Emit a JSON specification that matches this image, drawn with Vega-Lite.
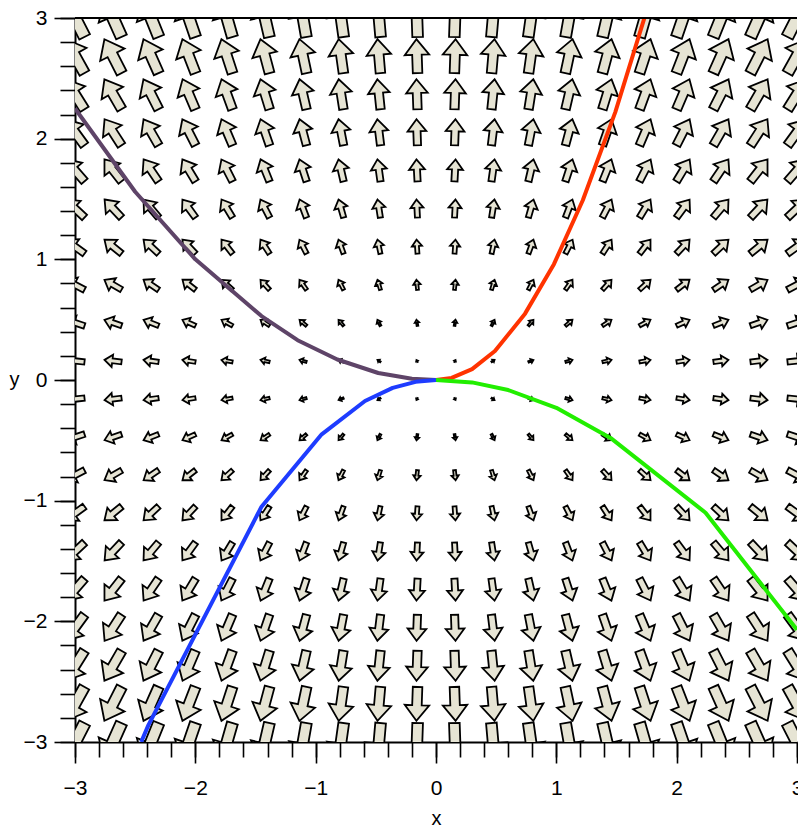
{
"$schema": "https://vega.github.io/schema/vega-lite/v6.json",
"width": 722,
"height": 724,
"autosize": {"type": "none"},
"padding": {"left": 75, "top": 18, "right": 1, "bottom": 86},
"background": "white",
"config": {
  "view": {"stroke": null},
  "axis": {"labelFont": "Liberation Sans", "titleFont": "Liberation Sans", "labelColor": "black", "titleColor": "black", "tickColor": "black", "domainColor": "black", "grid": false, "labelFlush": false, "labelOverlap": false, "titleFontWeight": "normal"}
},
"datasets": {
"arrows": [
{"x":-3,"y":3,"a":-27,"s":45},{"x":-2.684,"y":3,"a":-24,"s":43.21},{"x":-2.368,"y":3,"a":-22,"s":41.61},{"x":-2.053,"y":3,"a":-19,"s":40.21},{"x":-1.737,"y":3,"a":-16,"s":39.02},{"x":-1.421,"y":3,"a":-13,"s":38.02},{"x":-1.105,"y":3,"a":-10,"s":37.22},{"x":-0.789,"y":3,"a":-8,"s":36.62},{"x":-0.474,"y":3,"a":-5,"s":36.22},{"x":-0.158,"y":3,"a":-2,"s":36.02},
{"x":0.158,"y":3,"a":2,"s":36.02},{"x":0.474,"y":3,"a":5,"s":36.22},{"x":0.789,"y":3,"a":8,"s":36.62},{"x":1.105,"y":3,"a":10,"s":37.22},{"x":1.421,"y":3,"a":13,"s":38.02},{"x":1.737,"y":3,"a":16,"s":39.02},{"x":2.053,"y":3,"a":19,"s":40.21},{"x":2.368,"y":3,"a":22,"s":41.61},{"x":2.684,"y":3,"a":24,"s":43.21},{"x":3,"y":3,"a":27,"s":45},
{"x":-3,"y":2.684,"a":-29,"s":37.82},{"x":-2.684,"y":2.684,"a":-27,"s":36.03},{"x":-2.368,"y":2.684,"a":-24,"s":34.43},{"x":-2.053,"y":2.684,"a":-21,"s":33.03},{"x":-1.737,"y":2.684,"a":-18,"s":31.84},{"x":-1.421,"y":2.684,"a":-15,"s":30.84},{"x":-1.105,"y":2.684,"a":-12,"s":30.04},{"x":-0.789,"y":2.684,"a":-8,"s":29.44},{"x":-0.474,"y":2.684,"a":-5,"s":29.04},{"x":-0.158,"y":2.684,"a":-2,"s":28.84},
{"x":0.158,"y":2.684,"a":2,"s":28.84},{"x":0.474,"y":2.684,"a":5,"s":29.04},{"x":0.789,"y":2.684,"a":8,"s":29.44},{"x":1.105,"y":2.684,"a":12,"s":30.04},{"x":1.421,"y":2.684,"a":15,"s":30.84},{"x":1.737,"y":2.684,"a":18,"s":31.84},{"x":2.053,"y":2.684,"a":21,"s":33.03},{"x":2.368,"y":2.684,"a":24,"s":34.43},{"x":2.684,"y":2.684,"a":27,"s":36.03},{"x":3,"y":2.684,"a":29,"s":37.82},
{"x":-3,"y":2.368,"a":-32,"s":31.44},{"x":-2.684,"y":2.368,"a":-30,"s":29.64},{"x":-2.368,"y":2.368,"a":-27,"s":28.05},{"x":-2.053,"y":2.368,"a":-23,"s":26.65},{"x":-1.737,"y":2.368,"a":-20,"s":25.46},{"x":-1.421,"y":2.368,"a":-17,"s":24.46},{"x":-1.105,"y":2.368,"a":-13,"s":23.66},{"x":-0.789,"y":2.368,"a":-9,"s":23.06},{"x":-0.474,"y":2.368,"a":-6,"s":22.66},{"x":-0.158,"y":2.368,"a":-2,"s":22.46},
{"x":0.158,"y":2.368,"a":2,"s":22.46},{"x":0.474,"y":2.368,"a":6,"s":22.66},{"x":0.789,"y":2.368,"a":9,"s":23.06},{"x":1.105,"y":2.368,"a":13,"s":23.66},{"x":1.421,"y":2.368,"a":17,"s":24.46},{"x":1.737,"y":2.368,"a":20,"s":25.46},{"x":2.053,"y":2.368,"a":23,"s":26.65},{"x":2.368,"y":2.368,"a":27,"s":28.05},{"x":2.684,"y":2.368,"a":30,"s":29.64},{"x":3,"y":2.368,"a":32,"s":31.44},
{"x":-3,"y":2.053,"a":-36,"s":25.85},{"x":-2.684,"y":2.053,"a":-33,"s":24.06},{"x":-2.368,"y":2.053,"a":-30,"s":22.46},{"x":-2.053,"y":2.053,"a":-27,"s":21.07},{"x":-1.737,"y":2.053,"a":-23,"s":19.87},{"x":-1.421,"y":2.053,"a":-19,"s":18.87},{"x":-1.105,"y":2.053,"a":-15,"s":18.08},{"x":-0.789,"y":2.053,"a":-11,"s":17.48},{"x":-0.474,"y":2.053,"a":-7,"s":17.08},{"x":-0.158,"y":2.053,"a":-2,"s":16.88},
{"x":0.158,"y":2.053,"a":2,"s":16.88},{"x":0.474,"y":2.053,"a":7,"s":17.08},{"x":0.789,"y":2.053,"a":11,"s":17.48},{"x":1.105,"y":2.053,"a":15,"s":18.08},{"x":1.421,"y":2.053,"a":19,"s":18.87},{"x":1.737,"y":2.053,"a":23,"s":19.87},{"x":2.053,"y":2.053,"a":27,"s":21.07},{"x":2.368,"y":2.053,"a":30,"s":22.46},{"x":2.684,"y":2.053,"a":33,"s":24.06},{"x":3,"y":2.053,"a":36,"s":25.85},
{"x":-3,"y":1.737,"a":-41,"s":21.07},{"x":-2.684,"y":1.737,"a":-38,"s":19.27},{"x":-2.368,"y":1.737,"a":-34,"s":17.68},{"x":-2.053,"y":1.737,"a":-31,"s":16.28},{"x":-1.737,"y":1.737,"a":-27,"s":15.08},{"x":-1.421,"y":1.737,"a":-22,"s":14.09},{"x":-1.105,"y":1.737,"a":-18,"s":13.29},{"x":-0.789,"y":1.737,"a":-13,"s":12.69},{"x":-0.474,"y":1.737,"a":-8,"s":12.29},{"x":-0.158,"y":1.737,"a":-3,"s":12.09},
{"x":0.158,"y":1.737,"a":3,"s":12.09},{"x":0.474,"y":1.737,"a":8,"s":12.29},{"x":0.789,"y":1.737,"a":13,"s":12.69},{"x":1.105,"y":1.737,"a":18,"s":13.29},{"x":1.421,"y":1.737,"a":22,"s":14.09},{"x":1.737,"y":1.737,"a":27,"s":15.08},{"x":2.053,"y":1.737,"a":31,"s":16.28},{"x":2.368,"y":1.737,"a":34,"s":17.68},{"x":2.684,"y":1.737,"a":38,"s":19.27},{"x":3,"y":1.737,"a":41,"s":21.07},
{"x":-3,"y":1.421,"a":-47,"s":17.08},{"x":-2.684,"y":1.421,"a":-43,"s":15.28},{"x":-2.368,"y":1.421,"a":-40,"s":13.69},{"x":-2.053,"y":1.421,"a":-36,"s":12.29},{"x":-1.737,"y":1.421,"a":-31,"s":11.1},{"x":-1.421,"y":1.421,"a":-27,"s":10.1},{"x":-1.105,"y":1.421,"a":-21,"s":9.3},{"x":-0.789,"y":1.421,"a":-16,"s":8.7},{"x":-0.474,"y":1.421,"a":-9,"s":8.3},{"x":-0.158,"y":1.421,"a":-3,"s":8.1},
{"x":0.158,"y":1.421,"a":3,"s":8.1},{"x":0.474,"y":1.421,"a":9,"s":8.3},{"x":0.789,"y":1.421,"a":16,"s":8.7},{"x":1.105,"y":1.421,"a":21,"s":9.3},{"x":1.421,"y":1.421,"a":27,"s":10.1},{"x":1.737,"y":1.421,"a":31,"s":11.1},{"x":2.053,"y":1.421,"a":36,"s":12.29},{"x":2.368,"y":1.421,"a":40,"s":13.69},{"x":2.684,"y":1.421,"a":43,"s":15.28},{"x":3,"y":1.421,"a":47,"s":17.08},
{"x":-3,"y":1.105,"a":-54,"s":13.89},{"x":-2.684,"y":1.105,"a":-51,"s":12.09},{"x":-2.368,"y":1.105,"a":-47,"s":10.5},{"x":-2.053,"y":1.105,"a":-43,"s":9.1},{"x":-1.737,"y":1.105,"a":-38,"s":7.9},{"x":-1.421,"y":1.105,"a":-33,"s":6.91},{"x":-1.105,"y":1.105,"a":-27,"s":6.11},{"x":-0.789,"y":1.105,"a":-20,"s":5.51},{"x":-0.474,"y":1.105,"a":-12,"s":5.11},{"x":-0.158,"y":1.105,"a":-4,"s":4.91},
{"x":0.158,"y":1.105,"a":4,"s":4.91},{"x":0.474,"y":1.105,"a":12,"s":5.11},{"x":0.789,"y":1.105,"a":20,"s":5.51},{"x":1.105,"y":1.105,"a":27,"s":6.11},{"x":1.421,"y":1.105,"a":33,"s":6.91},{"x":1.737,"y":1.105,"a":38,"s":7.9},{"x":2.053,"y":1.105,"a":43,"s":9.1},{"x":2.368,"y":1.105,"a":47,"s":10.5},{"x":2.684,"y":1.105,"a":51,"s":12.09},{"x":3,"y":1.105,"a":54,"s":13.89},
{"x":-3,"y":0.789,"a":-62,"s":11.49},{"x":-2.684,"y":0.789,"a":-60,"s":9.7},{"x":-2.368,"y":0.789,"a":-56,"s":8.1},{"x":-2.053,"y":0.789,"a":-52,"s":6.71},{"x":-1.737,"y":0.789,"a":-48,"s":5.51},{"x":-1.421,"y":0.789,"a":-42,"s":4.51},{"x":-1.105,"y":0.789,"a":-35,"s":3.72},{"x":-0.789,"y":0.789,"a":-27,"s":3.12},{"x":-0.474,"y":0.789,"a":-17,"s":2.72},{"x":-0.158,"y":0.789,"a":-6,"s":2.52},
{"x":0.158,"y":0.789,"a":6,"s":2.52},{"x":0.474,"y":0.789,"a":17,"s":2.72},{"x":0.789,"y":0.789,"a":27,"s":3.12},{"x":1.105,"y":0.789,"a":35,"s":3.72},{"x":1.421,"y":0.789,"a":42,"s":4.51},{"x":1.737,"y":0.789,"a":48,"s":5.51},{"x":2.053,"y":0.789,"a":52,"s":6.71},{"x":2.368,"y":0.789,"a":56,"s":8.1},{"x":2.684,"y":0.789,"a":60,"s":9.7},{"x":3,"y":0.789,"a":62,"s":11.49},
{"x":-3,"y":0.474,"a":-72,"s":9.9},{"x":-2.684,"y":0.474,"a":-71,"s":8.1},{"x":-2.368,"y":0.474,"a":-68,"s":6.51},{"x":-2.053,"y":0.474,"a":-65,"s":5.11},{"x":-1.737,"y":0.474,"a":-61,"s":3.91},{"x":-1.421,"y":0.474,"a":-56,"s":2.92},{"x":-1.105,"y":0.474,"a":-49,"s":2.12},{"x":-0.789,"y":0.474,"a":-40,"s":1.52},{"x":-0.474,"y":0.474,"a":-27,"s":1.12},{"x":-0.158,"y":0.474,"a":-9,"s":0.92},
{"x":0.158,"y":0.474,"a":9,"s":0.92},{"x":0.474,"y":0.474,"a":27,"s":1.12},{"x":0.789,"y":0.474,"a":40,"s":1.52},{"x":1.105,"y":0.474,"a":49,"s":2.12},{"x":1.421,"y":0.474,"a":56,"s":2.92},{"x":1.737,"y":0.474,"a":61,"s":3.91},{"x":2.053,"y":0.474,"a":65,"s":5.11},{"x":2.368,"y":0.474,"a":68,"s":6.51},{"x":2.684,"y":0.474,"a":71,"s":8.1},{"x":3,"y":0.474,"a":72,"s":9.9},
{"x":-3,"y":0.158,"a":-84,"s":9.1},{"x":-2.684,"y":0.158,"a":-83,"s":7.31},{"x":-2.368,"y":0.158,"a":-82,"s":5.71},{"x":-2.053,"y":0.158,"a":-81,"s":4.31},{"x":-1.737,"y":0.158,"a":-80,"s":3.12},{"x":-1.421,"y":0.158,"a":-77,"s":2.12},{"x":-1.105,"y":0.158,"a":-74,"s":1.32},{"x":-0.789,"y":0.158,"a":-68,"s":0.72},{"x":-0.474,"y":0.158,"a":-56,"s":0.32},{"x":-0.158,"y":0.158,"a":-27,"s":0.12},
{"x":0.158,"y":0.158,"a":27,"s":0.12},{"x":0.474,"y":0.158,"a":56,"s":0.32},{"x":0.789,"y":0.158,"a":68,"s":0.72},{"x":1.105,"y":0.158,"a":74,"s":1.32},{"x":1.421,"y":0.158,"a":77,"s":2.12},{"x":1.737,"y":0.158,"a":80,"s":3.12},{"x":2.053,"y":0.158,"a":81,"s":4.31},{"x":2.368,"y":0.158,"a":82,"s":5.71},{"x":2.684,"y":0.158,"a":83,"s":7.31},{"x":3,"y":0.158,"a":84,"s":9.1},
{"x":-3,"y":-0.158,"a":-96,"s":9.1},{"x":-2.684,"y":-0.158,"a":-97,"s":7.31},{"x":-2.368,"y":-0.158,"a":-98,"s":5.71},{"x":-2.053,"y":-0.158,"a":-99,"s":4.31},{"x":-1.737,"y":-0.158,"a":-100,"s":3.12},{"x":-1.421,"y":-0.158,"a":-103,"s":2.12},{"x":-1.105,"y":-0.158,"a":-106,"s":1.32},{"x":-0.789,"y":-0.158,"a":-112,"s":0.72},{"x":-0.474,"y":-0.158,"a":-124,"s":0.32},{"x":-0.158,"y":-0.158,"a":-153,"s":0.12},
{"x":0.158,"y":-0.158,"a":153,"s":0.12},{"x":0.474,"y":-0.158,"a":124,"s":0.32},{"x":0.789,"y":-0.158,"a":112,"s":0.72},{"x":1.105,"y":-0.158,"a":106,"s":1.32},{"x":1.421,"y":-0.158,"a":103,"s":2.12},{"x":1.737,"y":-0.158,"a":100,"s":3.12},{"x":2.053,"y":-0.158,"a":99,"s":4.31},{"x":2.368,"y":-0.158,"a":98,"s":5.71},{"x":2.684,"y":-0.158,"a":97,"s":7.31},{"x":3,"y":-0.158,"a":96,"s":9.1},
{"x":-3,"y":-0.474,"a":-108,"s":9.9},{"x":-2.684,"y":-0.474,"a":-109,"s":8.1},{"x":-2.368,"y":-0.474,"a":-112,"s":6.51},{"x":-2.053,"y":-0.474,"a":-115,"s":5.11},{"x":-1.737,"y":-0.474,"a":-119,"s":3.91},{"x":-1.421,"y":-0.474,"a":-124,"s":2.92},{"x":-1.105,"y":-0.474,"a":-131,"s":2.12},{"x":-0.789,"y":-0.474,"a":-140,"s":1.52},{"x":-0.474,"y":-0.474,"a":-153,"s":1.12},{"x":-0.158,"y":-0.474,"a":-171,"s":0.92},
{"x":0.158,"y":-0.474,"a":171,"s":0.92},{"x":0.474,"y":-0.474,"a":153,"s":1.12},{"x":0.789,"y":-0.474,"a":140,"s":1.52},{"x":1.105,"y":-0.474,"a":131,"s":2.12},{"x":1.421,"y":-0.474,"a":124,"s":2.92},{"x":1.737,"y":-0.474,"a":119,"s":3.91},{"x":2.053,"y":-0.474,"a":115,"s":5.11},{"x":2.368,"y":-0.474,"a":112,"s":6.51},{"x":2.684,"y":-0.474,"a":109,"s":8.1},{"x":3,"y":-0.474,"a":108,"s":9.9},
{"x":-3,"y":-0.789,"a":-118,"s":11.49},{"x":-2.684,"y":-0.789,"a":-120,"s":9.7},{"x":-2.368,"y":-0.789,"a":-124,"s":8.1},{"x":-2.053,"y":-0.789,"a":-128,"s":6.71},{"x":-1.737,"y":-0.789,"a":-132,"s":5.51},{"x":-1.421,"y":-0.789,"a":-138,"s":4.51},{"x":-1.105,"y":-0.789,"a":-145,"s":3.72},{"x":-0.789,"y":-0.789,"a":-153,"s":3.12},{"x":-0.474,"y":-0.789,"a":-163,"s":2.72},{"x":-0.158,"y":-0.789,"a":-174,"s":2.52},
{"x":0.158,"y":-0.789,"a":174,"s":2.52},{"x":0.474,"y":-0.789,"a":163,"s":2.72},{"x":0.789,"y":-0.789,"a":153,"s":3.12},{"x":1.105,"y":-0.789,"a":145,"s":3.72},{"x":1.421,"y":-0.789,"a":138,"s":4.51},{"x":1.737,"y":-0.789,"a":132,"s":5.51},{"x":2.053,"y":-0.789,"a":128,"s":6.71},{"x":2.368,"y":-0.789,"a":124,"s":8.1},{"x":2.684,"y":-0.789,"a":120,"s":9.7},{"x":3,"y":-0.789,"a":118,"s":11.49},
{"x":-3,"y":-1.105,"a":-126,"s":13.89},{"x":-2.684,"y":-1.105,"a":-129,"s":12.09},{"x":-2.368,"y":-1.105,"a":-133,"s":10.5},{"x":-2.053,"y":-1.105,"a":-137,"s":9.1},{"x":-1.737,"y":-1.105,"a":-142,"s":7.9},{"x":-1.421,"y":-1.105,"a":-147,"s":6.91},{"x":-1.105,"y":-1.105,"a":-153,"s":6.11},{"x":-0.789,"y":-1.105,"a":-160,"s":5.51},{"x":-0.474,"y":-1.105,"a":-168,"s":5.11},{"x":-0.158,"y":-1.105,"a":-176,"s":4.91},
{"x":0.158,"y":-1.105,"a":176,"s":4.91},{"x":0.474,"y":-1.105,"a":168,"s":5.11},{"x":0.789,"y":-1.105,"a":160,"s":5.51},{"x":1.105,"y":-1.105,"a":153,"s":6.11},{"x":1.421,"y":-1.105,"a":147,"s":6.91},{"x":1.737,"y":-1.105,"a":142,"s":7.9},{"x":2.053,"y":-1.105,"a":137,"s":9.1},{"x":2.368,"y":-1.105,"a":133,"s":10.5},{"x":2.684,"y":-1.105,"a":129,"s":12.09},{"x":3,"y":-1.105,"a":126,"s":13.89},
{"x":-3,"y":-1.421,"a":-133,"s":17.08},{"x":-2.684,"y":-1.421,"a":-137,"s":15.28},{"x":-2.368,"y":-1.421,"a":-140,"s":13.69},{"x":-2.053,"y":-1.421,"a":-144,"s":12.29},{"x":-1.737,"y":-1.421,"a":-149,"s":11.1},{"x":-1.421,"y":-1.421,"a":-153,"s":10.1},{"x":-1.105,"y":-1.421,"a":-159,"s":9.3},{"x":-0.789,"y":-1.421,"a":-164,"s":8.7},{"x":-0.474,"y":-1.421,"a":-171,"s":8.3},{"x":-0.158,"y":-1.421,"a":-177,"s":8.1},
{"x":0.158,"y":-1.421,"a":177,"s":8.1},{"x":0.474,"y":-1.421,"a":171,"s":8.3},{"x":0.789,"y":-1.421,"a":164,"s":8.7},{"x":1.105,"y":-1.421,"a":159,"s":9.3},{"x":1.421,"y":-1.421,"a":153,"s":10.1},{"x":1.737,"y":-1.421,"a":149,"s":11.1},{"x":2.053,"y":-1.421,"a":144,"s":12.29},{"x":2.368,"y":-1.421,"a":140,"s":13.69},{"x":2.684,"y":-1.421,"a":137,"s":15.28},{"x":3,"y":-1.421,"a":133,"s":17.08},
{"x":-3,"y":-1.737,"a":-139,"s":21.07},{"x":-2.684,"y":-1.737,"a":-142,"s":19.27},{"x":-2.368,"y":-1.737,"a":-146,"s":17.68},{"x":-2.053,"y":-1.737,"a":-149,"s":16.28},{"x":-1.737,"y":-1.737,"a":-153,"s":15.08},{"x":-1.421,"y":-1.737,"a":-158,"s":14.09},{"x":-1.105,"y":-1.737,"a":-162,"s":13.29},{"x":-0.789,"y":-1.737,"a":-167,"s":12.69},{"x":-0.474,"y":-1.737,"a":-172,"s":12.29},{"x":-0.158,"y":-1.737,"a":-177,"s":12.09},
{"x":0.158,"y":-1.737,"a":177,"s":12.09},{"x":0.474,"y":-1.737,"a":172,"s":12.29},{"x":0.789,"y":-1.737,"a":167,"s":12.69},{"x":1.105,"y":-1.737,"a":162,"s":13.29},{"x":1.421,"y":-1.737,"a":158,"s":14.09},{"x":1.737,"y":-1.737,"a":153,"s":15.08},{"x":2.053,"y":-1.737,"a":149,"s":16.28},{"x":2.368,"y":-1.737,"a":146,"s":17.68},{"x":2.684,"y":-1.737,"a":142,"s":19.27},{"x":3,"y":-1.737,"a":139,"s":21.07},
{"x":-3,"y":-2.053,"a":-144,"s":25.85},{"x":-2.684,"y":-2.053,"a":-147,"s":24.06},{"x":-2.368,"y":-2.053,"a":-150,"s":22.46},{"x":-2.053,"y":-2.053,"a":-153,"s":21.07},{"x":-1.737,"y":-2.053,"a":-157,"s":19.87},{"x":-1.421,"y":-2.053,"a":-161,"s":18.87},{"x":-1.105,"y":-2.053,"a":-165,"s":18.08},{"x":-0.789,"y":-2.053,"a":-169,"s":17.48},{"x":-0.474,"y":-2.053,"a":-173,"s":17.08},{"x":-0.158,"y":-2.053,"a":-178,"s":16.88},
{"x":0.158,"y":-2.053,"a":178,"s":16.88},{"x":0.474,"y":-2.053,"a":173,"s":17.08},{"x":0.789,"y":-2.053,"a":169,"s":17.48},{"x":1.105,"y":-2.053,"a":165,"s":18.08},{"x":1.421,"y":-2.053,"a":161,"s":18.87},{"x":1.737,"y":-2.053,"a":157,"s":19.87},{"x":2.053,"y":-2.053,"a":153,"s":21.07},{"x":2.368,"y":-2.053,"a":150,"s":22.46},{"x":2.684,"y":-2.053,"a":147,"s":24.06},{"x":3,"y":-2.053,"a":144,"s":25.85},
{"x":-3,"y":-2.368,"a":-148,"s":31.44},{"x":-2.684,"y":-2.368,"a":-150,"s":29.64},{"x":-2.368,"y":-2.368,"a":-153,"s":28.05},{"x":-2.053,"y":-2.368,"a":-157,"s":26.65},{"x":-1.737,"y":-2.368,"a":-160,"s":25.46},{"x":-1.421,"y":-2.368,"a":-163,"s":24.46},{"x":-1.105,"y":-2.368,"a":-167,"s":23.66},{"x":-0.789,"y":-2.368,"a":-171,"s":23.06},{"x":-0.474,"y":-2.368,"a":-174,"s":22.66},{"x":-0.158,"y":-2.368,"a":-178,"s":22.46},
{"x":0.158,"y":-2.368,"a":178,"s":22.46},{"x":0.474,"y":-2.368,"a":174,"s":22.66},{"x":0.789,"y":-2.368,"a":171,"s":23.06},{"x":1.105,"y":-2.368,"a":167,"s":23.66},{"x":1.421,"y":-2.368,"a":163,"s":24.46},{"x":1.737,"y":-2.368,"a":160,"s":25.46},{"x":2.053,"y":-2.368,"a":157,"s":26.65},{"x":2.368,"y":-2.368,"a":153,"s":28.05},{"x":2.684,"y":-2.368,"a":150,"s":29.64},{"x":3,"y":-2.368,"a":148,"s":31.44},
{"x":-3,"y":-2.684,"a":-151,"s":37.82},{"x":-2.684,"y":-2.684,"a":-153,"s":36.03},{"x":-2.368,"y":-2.684,"a":-156,"s":34.43},{"x":-2.053,"y":-2.684,"a":-159,"s":33.03},{"x":-1.737,"y":-2.684,"a":-162,"s":31.84},{"x":-1.421,"y":-2.684,"a":-165,"s":30.84},{"x":-1.105,"y":-2.684,"a":-168,"s":30.04},{"x":-0.789,"y":-2.684,"a":-172,"s":29.44},{"x":-0.474,"y":-2.684,"a":-175,"s":29.04},{"x":-0.158,"y":-2.684,"a":-178,"s":28.84},
{"x":0.158,"y":-2.684,"a":178,"s":28.84},{"x":0.474,"y":-2.684,"a":175,"s":29.04},{"x":0.789,"y":-2.684,"a":172,"s":29.44},{"x":1.105,"y":-2.684,"a":168,"s":30.04},{"x":1.421,"y":-2.684,"a":165,"s":30.84},{"x":1.737,"y":-2.684,"a":162,"s":31.84},{"x":2.053,"y":-2.684,"a":159,"s":33.03},{"x":2.368,"y":-2.684,"a":156,"s":34.43},{"x":2.684,"y":-2.684,"a":153,"s":36.03},{"x":3,"y":-2.684,"a":151,"s":37.82},
{"x":-3,"y":-3,"a":-153,"s":45},{"x":-2.684,"y":-3,"a":-156,"s":43.21},{"x":-2.368,"y":-3,"a":-158,"s":41.61},{"x":-2.053,"y":-3,"a":-161,"s":40.21},{"x":-1.737,"y":-3,"a":-164,"s":39.02},{"x":-1.421,"y":-3,"a":-167,"s":38.02},{"x":-1.105,"y":-3,"a":-170,"s":37.22},{"x":-0.789,"y":-3,"a":-172,"s":36.62},{"x":-0.474,"y":-3,"a":-175,"s":36.22},{"x":-0.158,"y":-3,"a":-178,"s":36.02},
{"x":0.158,"y":-3,"a":178,"s":36.02},{"x":0.474,"y":-3,"a":175,"s":36.22},{"x":0.789,"y":-3,"a":172,"s":36.62},{"x":1.105,"y":-3,"a":170,"s":37.22},{"x":1.421,"y":-3,"a":167,"s":38.02},{"x":1.737,"y":-3,"a":164,"s":39.02},{"x":2.053,"y":-3,"a":161,"s":40.21},{"x":2.368,"y":-3,"a":158,"s":41.61},{"x":2.684,"y":-3,"a":156,"s":43.21},{"x":3,"y":-3,"a":153,"s":45}
],
"curves": [
{"c":"purple","i":0,"x":-3,"y":2.25},{"c":"purple","i":1,"x":-2.5,"y":1.56},{"c":"purple","i":2,"x":-2.0,"y":1.0},{"c":"purple","i":3,"x":-1.45,"y":0.53},{"c":"purple","i":4,"x":-1.15,"y":0.33},{"c":"purple","i":5,"x":-0.82,"y":0.17},{"c":"purple","i":6,"x":-0.48,"y":0.058},{"c":"purple","i":7,"x":-0.2,"y":0.01},{"c":"purple","i":8,"x":0,"y":0},
{"c":"red","i":0,"x":0,"y":0},{"c":"red","i":1,"x":0.13,"y":0.017},{"c":"red","i":2,"x":0.3,"y":0.09},{"c":"red","i":3,"x":0.49,"y":0.24},{"c":"red","i":4,"x":0.74,"y":0.55},{"c":"red","i":5,"x":0.98,"y":0.96},{"c":"red","i":6,"x":1.22,"y":1.49},{"c":"red","i":7,"x":1.49,"y":2.22},{"c":"red","i":8,"x":1.732,"y":3.0},
{"c":"green","i":0,"x":0,"y":0},{"c":"green","i":1,"x":0.3,"y":-0.02},{"c":"green","i":2,"x":0.6,"y":-0.083},{"c":"green","i":3,"x":1.0,"y":-0.23},{"c":"green","i":4,"x":1.45,"y":-0.48},{"c":"green","i":5,"x":2.24,"y":-1.1},{"c":"green","i":6,"x":3.0,"y":-2.07},
{"c":"blue","i":0,"x":0,"y":0},{"c":"blue","i":1,"x":-0.17,"y":-0.015},{"c":"blue","i":2,"x":-0.36,"y":-0.065},{"c":"blue","i":3,"x":-0.59,"y":-0.174},{"c":"blue","i":4,"x":-0.95,"y":-0.45},{"c":"blue","i":5,"x":-1.45,"y":-1.05},{"c":"blue","i":6,"x":-2.39,"y":-2.86},{"c":"blue","i":7,"x":-2.45,"y":-3.0}
]
},
"layer": [
{
  "data": {"name": "arrows"},
  "mark": {"type": "point", "shape": "M0,-1L0.72,-0.08L0.28,-0.08L0.28,1L-0.28,1L-0.28,-0.08L-0.72,-0.08Z", "filled": true, "fill": "#E6E4D4", "stroke": "black", "strokeWidth": 1.8, "strokeJoin": "miter", "opacity": 1, "fillOpacity": 1, "strokeOpacity": 1, "clip": true},
  "encoding": {
    "x": {"field": "x", "type": "quantitative", "scale": {"domain": [-3, 3], "nice": false, "zero": false},
      "axis": {"orient": "bottom", "values": [-3, -2, -1, 0, 1, 2, 3], "tickSize": 21, "tickWidth": 1.6, "domainWidth": 2, "labelFontSize": 21, "labelPadding": 14, "title": "x", "titleFontSize": 20, "titleY": 82, "titleBaseline": "alphabetic"}},
    "y": {"field": "y", "type": "quantitative", "scale": {"domain": [-3, 3], "nice": false, "zero": false},
      "axis": {"orient": "left", "values": [-3, -2, -1, 0, 1, 2, 3], "tickSize": 21, "tickWidth": 1.6, "domainWidth": 2, "labelFontSize": 21, "labelPadding": 7, "title": "y", "titleFontSize": 20, "titleAngle": 0, "titleX": -61, "titleY": 367, "titleAlign": "center", "titleBaseline": "alphabetic"}},
    "angle": {"field": "a", "type": "quantitative", "scale": null},
    "size": {"field": "s", "type": "quantitative", "scale": {"domain": [0, 45], "range": [0, 1800]}, "legend": null}
  }
},
{
  "data": {"name": "curves"},
  "mark": {"type": "line", "strokeWidth": 4, "clip": true, "strokeJoin": "round"},
  "encoding": {
    "x": {"field": "x", "type": "quantitative",
      "axis": {"orient": "bottom", "values": [-3,-2.8,-2.6,-2.4,-2.2,-2,-1.8,-1.6,-1.4,-1.2,-1,-0.8,-0.6,-0.4,-0.2,0,0.2,0.4,0.6,0.8,1,1.2,1.4,1.6,1.8,2,2.2,2.4,2.6,2.8,3], "tickSize": 15, "tickWidth": 1.6, "labels": false, "domain": false, "title": null}},
    "y": {"field": "y", "type": "quantitative",
      "axis": {"orient": "left", "values": [-3,-2.8,-2.6,-2.4,-2.2,-2,-1.8,-1.6,-1.4,-1.2,-1,-0.8,-0.6,-0.4,-0.2,0,0.2,0.4,0.6,0.8,1,1.2,1.4,1.6,1.8,2,2.2,2.4,2.6,2.8,3], "tickSize": 15, "tickWidth": 1.6, "labels": false, "domain": false, "title": null}},
    "color": {"field": "c", "type": "nominal", "scale": {"domain": ["purple", "red", "green", "blue"], "range": ["#5E4468", "#FF3300", "#22EE00", "#1E3CFF"]}, "legend": null},
    "order": {"field": "i", "type": "quantitative"}
  }
},
{
  "data": {"values": [{}]},
  "mark": {"type": "rule", "color": "black", "strokeWidth": 2},
  "encoding": {"y": {"datum": 3, "type": "quantitative", "axis": null}}
}
],
"resolve": {"axis": {"x": "independent", "y": "independent"}}
}
